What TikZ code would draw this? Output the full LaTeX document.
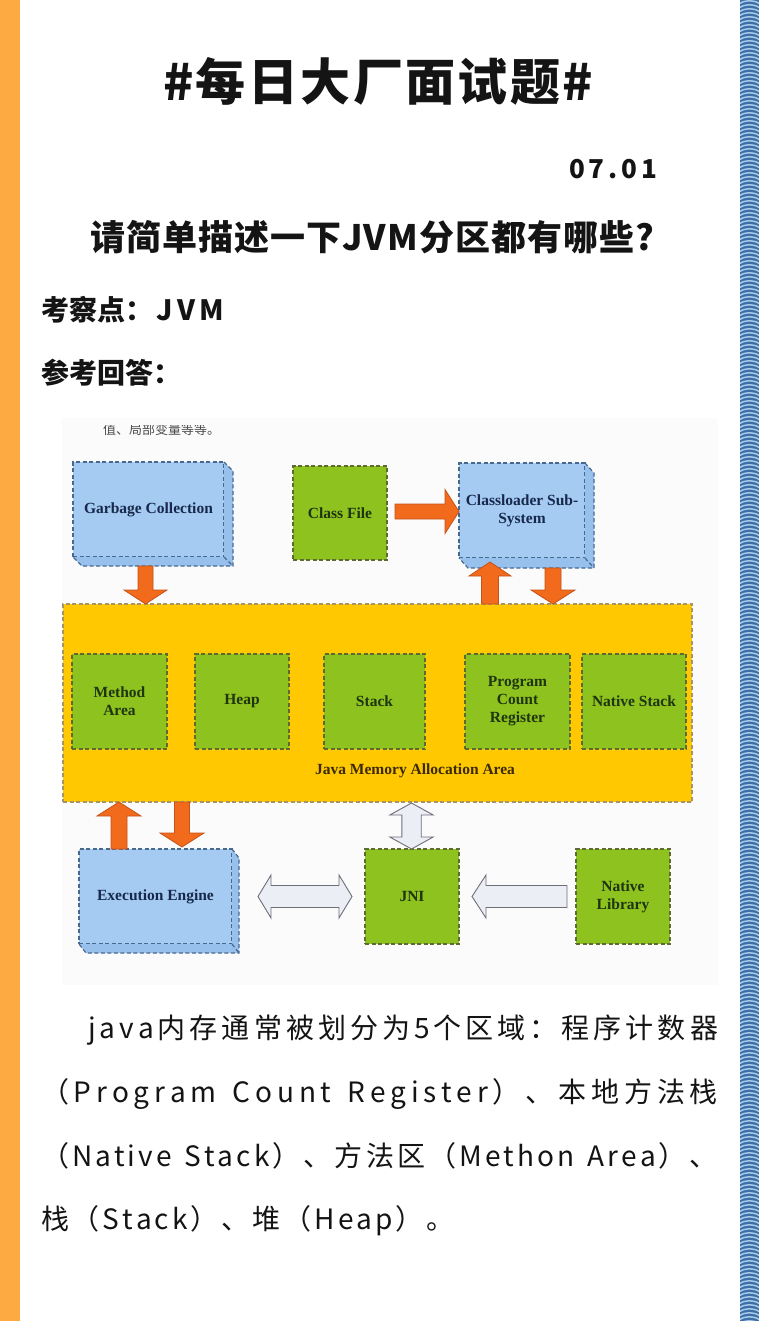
\documentclass[tikz,border=0pt]{standalone}
\usepackage{fontspec}
\usetikzlibrary{calc}
\newfontfamily\cjk{Noto Sans CJK SC}
\newfontfamily\dgf{Liberation Serif}

\definecolor{barorange}{HTML}{FDAA43}
\definecolor{stripeblue}{HTML}{3D6FA6}
\definecolor{stripelight}{HTML}{A7C9EA}
\definecolor{bluefill}{HTML}{A5CBF3}
\definecolor{bluedepth}{HTML}{98C0EC}
\definecolor{bluebd}{HTML}{48698F}
\definecolor{bluetxt}{HTML}{17284A}
\definecolor{greenfill}{HTML}{8DC21F}
\definecolor{greenbd}{HTML}{5E6B30}
\definecolor{greentxt}{HTML}{1E3510}
\definecolor{memfill}{HTML}{FFC800}
\definecolor{membd}{HTML}{A4966A}
\definecolor{memtxt}{HTML}{3B2A05}
\definecolor{arrowfill}{HTML}{F26A1B}
\definecolor{arrowbd}{HTML}{C4531A}
\definecolor{lightfill}{HTML}{ECEEF6}
\definecolor{lightbd}{HTML}{6E6E78}
\definecolor{ink}{HTML}{141414}
\definecolor{diagbg}{HTML}{FBFBFB}

% Set a run of characters with glue between every pair of them
\makeatletter
\def\sp@end{\sp@end@}
\def\sp@loop#1{\ifx#1\sp@end\unskip\else#1\sp@glue\expandafter\sp@loop\fi}
\newcommand\spreadbox[2]{\hbox to #1{\def\sp@glue{\hfil}\sp@loop#2\sp@end}}
\newcommand\trackbox[2]{\hbox{\def\sp@glue{\hskip#1\relax}\sp@loop#2\sp@end}}
\makeatother

% Block arrow from #2 to #3: shaft half-width #4, head half-width #5, head length #6
\newcommand\fatarrow[6]{%
  \path[#1] let \p1=#2, \p2=#3, \n1={atan2(\y2-\y1,\x2-\x1)}, \n2={veclen(\x2-\x1,\y2-\y1)} in
    ([shift={(\p1)},rotate=\n1]0,-#4) -- ([shift={(\p1)},rotate=\n1]{\n2-#6},-#4)
    -- ([shift={(\p1)},rotate=\n1]{\n2-#6},-#5) -- ([shift={(\p1)},rotate=\n1]\n2,0)
    -- ([shift={(\p1)},rotate=\n1]{\n2-#6},#5) -- ([shift={(\p1)},rotate=\n1]{\n2-#6},#4)
    -- ([shift={(\p1)},rotate=\n1]0,#4) -- cycle;}
% Block arrow with a head at both ends
\newcommand\fatdarrow[6]{%
  \path[#1] let \p1=#2, \p2=#3, \n1={atan2(\y2-\y1,\x2-\x1)}, \n2={veclen(\x2-\x1,\y2-\y1)} in
    ([shift={(\p1)},rotate=\n1]0,0) -- ([shift={(\p1)},rotate=\n1]#6,-#5)
    -- ([shift={(\p1)},rotate=\n1]#6,-#4) -- ([shift={(\p1)},rotate=\n1]{\n2-#6},-#4)
    -- ([shift={(\p1)},rotate=\n1]{\n2-#6},-#5) -- ([shift={(\p1)},rotate=\n1]\n2,0)
    -- ([shift={(\p1)},rotate=\n1]{\n2-#6},#5) -- ([shift={(\p1)},rotate=\n1]{\n2-#6},#4)
    -- ([shift={(\p1)},rotate=\n1]#6,#4) -- ([shift={(\p1)},rotate=\n1]#6,#5) -- cycle;}
% Extruded side and bottom of a box node
\newcommand\depthface[3]{%
  \fill[bluedepth] (#1.north east) -- ++(#2,#3) -- ($(#1.south east)+(#2,#3)$)
    -- ($(#1.south west)+(#2,#3)$) -- (#1.south west) -- (#1.south east) -- cycle;
  \draw[dashline, bluebd] (#1.north east) -- ++(#2,#3) -- ($(#1.south east)+(#2,#3)$)
    -- ($(#1.south west)+(#2,#3)$) -- (#1.south west);
  \draw[dashline, bluebd] (#1.south east) -- ++(#2,#3);}

\begin{document}
\begin{tikzpicture}[x=1pt, y=-1pt,
  dashline/.style={dash pattern=on 4pt off 2.5pt, line width=1.2pt},
  face/.style={draw, dashline, inner sep=0pt, outer sep=0pt, align=center,
    font=\dgf\bfseries\fontsize{15.5}{18}\selectfont},
  bluebox/.style={face, fill=bluefill, draw=bluebd, text=bluetxt},
  greenbox/.style={face, fill=greenfill, draw=greenbd, text=greentxt},
  membox/.style={face, fill=memfill, draw=membd},
  orangearrow/.style={fill=arrowfill, draw=arrowbd, line width=0.8pt},
  lightarrow/.style={fill=lightfill, draw=lightbd, line width=0.9pt},
  txt/.style={inner sep=0pt, outer sep=0pt, text=ink, anchor=base west},
  arcline/.style={draw=stripelight, line width=1.5pt}]

\useasboundingbox (0,0) rectangle (759,1321);
\fill[white] (0,0) rectangle (759,1321);

% page frame: orange bar on the left, wavy blue stripe on the right
\fill[barorange] (0,0) rectangle (20,1321);
\fill[stripeblue] (740,0) rectangle (759,1321);
\begin{scope}
  \clip (740,0) rectangle (759,1321);
  \foreach \k in {0,...,331}
    \draw[arcline] (740,{4*\k+3.5}) .. controls (744,{4*\k}) and (755,{4*\k}) .. (759,{4*\k+3.5});
\end{scope}

% headings
\node[txt, anchor=base] (title) at (378,101)
  {\cjk\bfseries\fontsize{50}{50}\selectfont\spreadbox{430pt}{\#每日大厂面试题\#}};
\node[txt, anchor=base east] (date) at (657,179)
  {\cjk\bfseries\fontsize{26}{26}\selectfont\spreadbox{88pt}{07.01}};
\node[txt] (question) at (90,251)
  {\cjk\bfseries\fontsize{35}{35}\selectfont\spreadbox{564pt}{请简单描述一下JVM分区都有哪些?}};
\node[txt] (topic) at (41,320)
  {\cjk\bfseries\fontsize{28}{28}\selectfont 考察点：\hspace{4pt}\trackbox{4pt}{JVM}};
\node[txt] (answer) at (41,383)
  {\cjk\bfseries\fontsize{28}{28}\selectfont 参考回答：};

% diagram area
\fill[diagbg] (62,418) rectangle (718,985);
\begin{scope}
  \clip (62,425) rectangle (718,445);
  \node[txt, text=black!70] (fragment) at (103,434)
    {\cjk\fontsize{13}{13}\selectfont 值、局部变量等等。};
\end{scope}

% top row
\node[bluebox, minimum width=151pt, minimum height=95pt] (gc) at (148.5,509.5) {Garbage Collection};
\depthface{gc}{9}{9}
\node[greenbox, minimum width=94pt, minimum height=94pt] (cf) at (340,513) {Class File};
\node[bluebox, minimum width=126pt, minimum height=95pt] (cl) at (522,510.5) {Classloader Sub-\\System};
\depthface{cl}{9}{10}

% memory area
\node[membox, minimum width=629pt, minimum height=198pt] (mem) at (377.5,703) {};
\node[greenbox, minimum width=95pt, minimum height=95pt] (ma) at (119.5,701.5) {Method\\Area};
\node[greenbox, minimum width=94pt, minimum height=95pt] (hp) at (242,701.5) {Heap};
\node[greenbox, minimum width=101pt, minimum height=95pt] (st) at (374.5,701.5) {Stack};
\node[greenbox, minimum width=105pt, minimum height=95pt] (pc) at (517.5,701.5) {Program\\Count\\Register};
\node[greenbox, minimum width=104pt, minimum height=95pt] (ns) at (634,701.5) {Native Stack};
\node[inner sep=0pt, text=memtxt, font=\dgf\bfseries\fontsize{15.5}{18}\selectfont] (memlabel)
  at (415,771) {Java Memory Allocation Area};

% bottom row
\node[bluebox, minimum width=153pt, minimum height=95pt] (ee) at (155.5,896.5) {Execution Engine};
\depthface{ee}{7}{9}
\node[greenbox, minimum width=94pt, minimum height=95pt] (jni) at (412,896.5) {JNI};
\node[greenbox, minimum width=94pt, minimum height=95pt] (nl) at (623,896.5) {Native\\Library};

% orange data-flow arrows
\coordinate (gcout) at ($(gc.south)+(-3,9)$);
\fatarrow{orangearrow}{(gcout)}{(gcout |- mem.north)}{7.5}{21.5}{14}
\coordinate (cfout) at ($(cf.east)+(8,-1.5)$);
\fatarrow{orangearrow}{(cfout)}{(cfout -| cl.west)}{7.5}{22}{14}
\coordinate (clin) at ($(mem.north)+(112.5,0)$);
\fatarrow{orangearrow}{(clin)}{($(clin |- cl.south)+(0,4)$)}{8.5}{21}{14}
\coordinate (clout) at ($(cl.south)+(31,10)$);
\fatarrow{orangearrow}{(clout)}{(clout |- mem.north)}{8}{22}{14}
\coordinate (eein) at ($(ee.north)+(-36.5,0)$);
\fatarrow{orangearrow}{(eein)}{(eein |- mem.south)}{8}{22}{14}
\coordinate (eeout) at ($(ee.north)+(26.5,-2)$);
\fatarrow{orangearrow}{(eeout |- mem.south)}{(eeout)}{7.5}{22}{14}

% native interface arrows
\fatdarrow{lightarrow}{($(jni.north)+(-0.5,0)$)}{($(jni.north |- mem.south)+(-0.5,1)$)}{9.7}{21.7}{12}
\fatdarrow{lightarrow}{($(ee.east)+(26,0)$)}{($(jni.west)+(-13,0)$)}{11}{21.5}{13}
\fatarrow{lightarrow}{($(nl.west)+(-9,0)$)}{($(jni.east)+(13,0)$)}{11}{21.5}{14}

% answer text
\begin{scope}[every node/.style={txt, font=\cjk\fontsize{28}{28}\selectfont}]
  \node (line1) at (88,1038) {\spreadbox{630pt}{java内存通常被划分为5个区域：程序计数器}};
  \node (line2) at (41,1102) {\spreadbox{677pt}{（Program~Count~Register）、本地方法栈}};
  \node (line3) at (41,1166) {\spreadbox{677pt}{（Native~Stack）、方法区（Methon~Area）、}};
  \node (line4) at (41,1229) {\trackbox{3pt}{栈（Stack）、堆（Heap）。}};
\end{scope}
\end{tikzpicture}
\end{document}
